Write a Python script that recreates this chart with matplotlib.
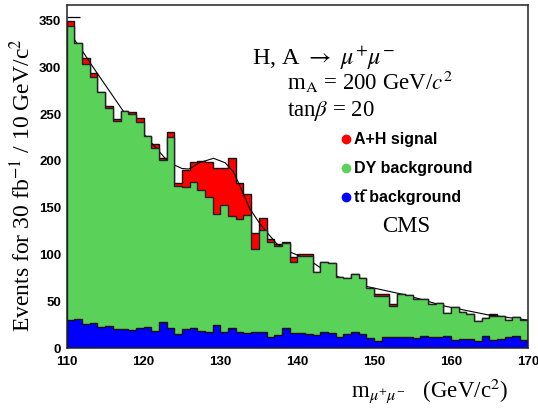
import numpy as np
import matplotlib
matplotlib.use("Agg")
import matplotlib.pyplot as plt

plt.rcParams["font.family"] = ["Liberation Sans", "DejaVu Sans"]
plt.rcParams["mathtext.fontset"] = "stix"

# binning: 1 GeV bins from 110 to 170
bin_lo, bin_hi, bin_w = 110, 170, 1

# tt background (blue, bottom)
n_tt = [29.9, 30.7, 25.7, 27.4, 22.8, 23.5, 20.0, 20.7, 19.3, 21.0,
        22.5, 17.8, 27.8, 21.4, 15.0, 20.3, 21.7, 18.2, 17.5, 25.0,
        16.8, 21.4, 17.1, 15.7, 16.8, 17.5, 12.1, 14.3, 21.0, 16.4,
        15.7, 15.0, 14.3, 17.1, 15.7, 11.4, 14.6, 17.1, 15.0, 11.0,
        7.1, 11.4, 11.8, 11.4, 12.1, 10.7, 12.8, 12.1, 12.1, 13.5,
        9.1, 9.8, 9.8, 7.7, 12.8, 8.4, 9.8, 12.1, 12.8, 9.1]

# DY + tt (green top)
n_bkg = [344.7, 325.8, 303.7, 289.8, 274.0, 256.3, 242.8, 253.8, 250.0, 241.4,
         226.7, 213.6, 200.7, 226.0, 173.0, 172.0, 177.5, 169.5, 161.5, 143.3,
         153.0, 141.0, 138.0, 142.5, 105.5, 126.0, 113.7, 109.0, 112.0, 92.3,
         99.0, 98.0, 81.6, 92.3, 90.5, 76.0, 74.5, 79.3, 75.0, 64.0,
         55.6, 55.6, 45.0, 57.4, 56.7, 52.4, 52.4, 47.5, 48.0, 37.4,
         44.5, 38.9, 36.3, 29.5, 32.0, 34.0, 34.0, 30.0, 33.0, 30.0]

# signal + background (red top)
n_all = [349.7, 326.0, 310.5, 294.5, 274.0, 258.8, 245.3, 253.8, 252.0, 245.6,
         226.7, 218.5, 203.0, 230.7, 177.0, 190.0, 199.0, 200.0, 199.0, 193.0,
         192.0, 203.0, 176.0, 165.0, 123.5, 139.5, 117.0, 111.0, 113.0, 97.7,
         101.0, 100.5, 81.6, 92.3, 90.5, 76.0, 74.5, 79.3, 75.0, 64.0,
         57.4, 57.4, 47.0, 57.4, 56.7, 52.4, 52.4, 47.5, 48.0, 37.4,
         44.5, 38.9, 36.3, 29.5, 32.0, 36.0, 34.0, 30.0, 33.0, 30.0]

# fitted curve
fit_x = [110.9, 112.0, 113.7, 117.3, 120.9, 122.9, 124.0, 125.0, 125.9, 127.3,
         129.1, 130.6, 131.7, 132.5, 133.8, 135.1, 135.8, 137.3, 139.0, 140.0,
         141.9, 143.0, 145.3, 149.2, 154.0, 159.2, 164.8, 170.0]
fit_y = [331.0, 318.0, 297.0, 254.0, 220.6, 202.0, 195.7, 192.0, 191.4, 198.2,
         202.9, 198.2, 188.5, 174.0, 149.4, 133.4, 126.2, 111.8, 103.0, 99.5,
         92.3, 86.0, 76.3, 65.6, 57.0, 44.9, 35.6, 30.0]

# short line stub at the top left
stub_x = [110.0, 111.7]
stub_y = 353.5

edges = np.arange(bin_lo, bin_hi + bin_w, bin_w)

fig = plt.figure(figsize=(5.38, 4.12), dpi=100)
ax = fig.add_axes([0.124, 0.155, 0.857, 0.8335])

green = "#5ad25a"
ax.stairs(n_all, edges, fill=True, facecolor="#ff0000", edgecolor="#111111",
          linewidth=1.0, baseline=0, zorder=1)
ax.plot(fit_x, fit_y, color="black", linewidth=0.8, zorder=2)
ax.hlines(stub_y, stub_x[0], stub_x[1], color="black", linewidth=0.9, zorder=2)
ax.stairs(n_bkg, edges, fill=True, facecolor=green, edgecolor="#222222",
          linewidth=1.0, baseline=0, zorder=3)
ax.stairs(n_tt, edges, fill=True, facecolor="#0000ff", edgecolor="#111111",
          linewidth=1.0, baseline=0, zorder=4)

ax.set_xlim(bin_lo, bin_hi)
ax.set_ylim(0, 367)
ax.set_xticks(np.arange(110, 171, 10))
ax.set_yticks(np.arange(0, 351, 50))
ax.tick_params(length=0, labelsize=9.5)
ax.tick_params(axis="y", pad=4)
ax.tick_params(axis="x", pad=6)
for lab in ax.get_xticklabels() + ax.get_yticklabels():
    lab.set_fontweight("bold")
for sp in ax.spines.values():
    sp.set_linewidth(1.1)
    sp.set_color("#222222")
    sp.set_zorder(6)

serif = "Liberation Serif"
ax.text(-0.097, 0.475, r"Events for 30 fb$^{-1}$ / 10 GeV/c$^{2}$",
        transform=ax.transAxes, rotation=90, ha="center", va="center",
        fontsize=17, family=serif)
ax.text(0.957, -0.142, r"m$_{\mu^{+}\mu^{-}}$   (GeV/c$^{2}$)",
        transform=ax.transAxes, ha="right", va="baseline",
        fontsize=16.5, family=serif)

ax.text(0.401, 0.826, r"H, A $\rightarrow$ $\mu^{+}\mu^{-}$",
        transform=ax.transAxes, ha="left", va="baseline", fontsize=17.5, family=serif)
ax.text(0.477, 0.752, r"m$_{\rm A}$ = 200 GeV/$c^{2}$",
        transform=ax.transAxes, ha="left", va="baseline", fontsize=16.5, family=serif)
ax.text(0.477, 0.677, r"tan$\beta$ = 20",
        transform=ax.transAxes, ha="left", va="baseline", fontsize=16.5, family=serif)

legend_labels = ["A+H signal", "DY background", "tt\u0304 background"]
legend_colors = ["#ff0000", green, "#0000ff"]
legend_y = [0.6078, 0.5233, 0.4407]
for lab, col, yy in zip(legend_labels, legend_colors, legend_y):
    ax.plot([0.6055], [yy], "o", color=col, markersize=6, transform=ax.transAxes,
            clip_on=False, zorder=7)
    ax.text(0.623, yy, lab, transform=ax.transAxes, ha="left", va="center",
            fontsize=11.5, fontweight="bold", zorder=7)

ax.text(0.7355, 0.3388, "CMS", transform=ax.transAxes, ha="center",
        va="baseline", fontsize=16.5, family=serif)

fig.savefig("out.png", dpi=100)
plt.close(fig)
